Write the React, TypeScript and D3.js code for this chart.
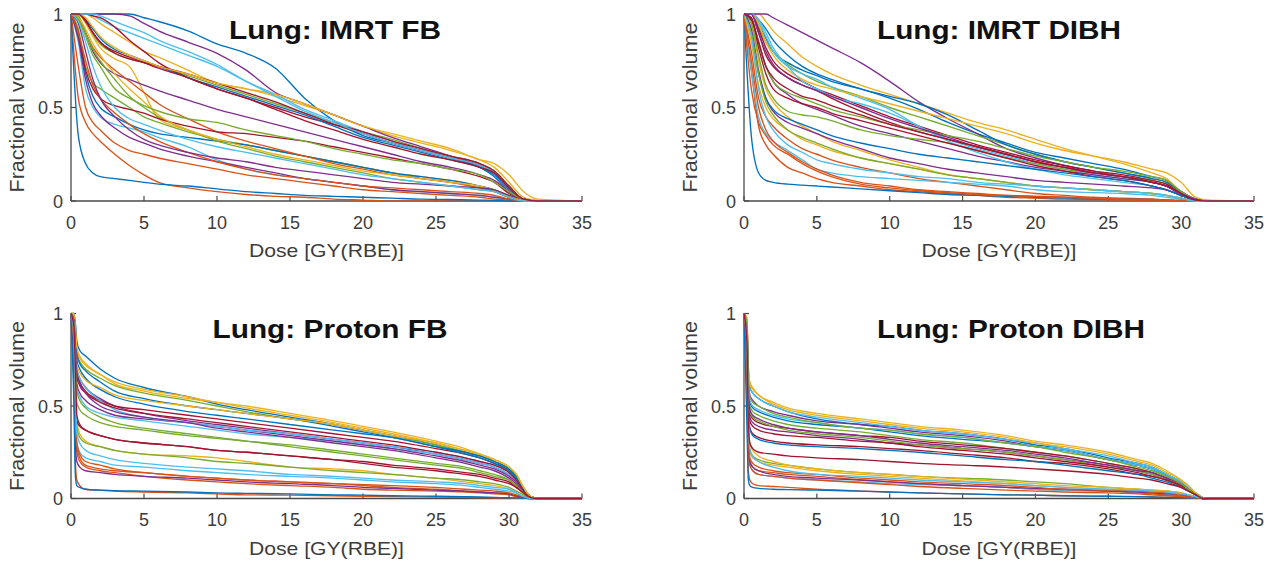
import React from "react";
import * as d3 from "d3";

// MATLAB default colour order (lines cycle through it)
const colorOrder = ["#0072BD", "#D95319", "#EDB120", "#7E2F8E", "#77AC30", "#4DBEEE", "#A2142F"];

const xTicks = [0, 5, 10, 15, 20, 25, 30, 35];
const yTicks = [0, 0.5, 1];
const yTickLabels = ["0", "0.5", "1"];
const titles = ["Lung: IMRT FB", "Lung: IMRT DIBH", "Lung: Proton FB", "Lung: Proton DIBH"];
const xLabel = "Dose [GY(RBE)]";
const yLabel = "Fractional volume";

// dose sample points (Gy(RBE)) at which the curves were read
const imrtDose = [0, 0.5, 1, 1.5, 2, 3, 4, 5, 6, 8, 10, 12, 14, 16, 18, 20, 22, 24, 26, 28, 29, 30, 31, 32, 35];
const protonDose = [0, 0.2, 0.3, 0.4, 0.6, 1, 2, 3, 5, 8, 10, 12, 15, 18, 20, 22, 25, 27, 28, 29, 30, 30.5, 31, 31.5, 32, 35];

// fractional volume per patient, IMRT free breathing
const imrtFB = [
  [1, 1, 1, 1, 1, 1, 1, 0.98, 0.96, 0.91, 0.84, 0.79, 0.71, 0.55, 0.43, 0.35, 0.31, 0.27, 0.23, 0.18, 0.13, 0.05, 0.01, 0, 0],
  [1, 0.72, 0.5, 0.42, 0.38, 0.31, 0.27, 0.25, 0.23, 0.2, 0.17, 0.14, 0.12, 0.1, 0.08, 0.06, 0.05, 0.04, 0.03, 0.02, 0.01, 0.005, 0, 0, 0],
  [1, 1, 1, 0.98, 0.95, 0.9, 0.85, 0.8, 0.77, 0.7, 0.63, 0.6, 0.56, 0.51, 0.46, 0.4, 0.35, 0.31, 0.27, 0.22, 0.18, 0.1, 0.02, 0.005, 0],
  [1, 1, 1, 1, 1, 1, 0.99, 0.95, 0.91, 0.85, 0.79, 0.7, 0.58, 0.52, 0.46, 0.4, 0.34, 0.29, 0.24, 0.19, 0.15, 0.07, 0.01, 0, 0],
  [1, 1, 0.96, 0.89, 0.84, 0.79, 0.76, 0.74, 0.72, 0.67, 0.62, 0.57, 0.52, 0.47, 0.42, 0.37, 0.33, 0.28, 0.24, 0.2, 0.16, 0.08, 0.01, 0, 0],
  [1, 1, 1, 0.99, 0.97, 0.93, 0.9, 0.87, 0.84, 0.78, 0.72, 0.64, 0.57, 0.49, 0.43, 0.37, 0.32, 0.27, 0.23, 0.19, 0.15, 0.07, 0.01, 0, 0],
  [1, 1, 1, 0.99, 0.98, 0.93, 0.86, 0.8, 0.74, 0.66, 0.6, 0.55, 0.5, 0.45, 0.41, 0.37, 0.32, 0.28, 0.24, 0.2, 0.16, 0.08, 0.01, 0, 0],
  [1, 1, 0.97, 0.92, 0.87, 0.81, 0.78, 0.75, 0.72, 0.66, 0.61, 0.56, 0.51, 0.46, 0.4, 0.34, 0.3, 0.26, 0.22, 0.18, 0.14, 0.06, 0.01, 0, 0],
  [1, 0.55, 0.42, 0.36, 0.32, 0.25, 0.19, 0.14, 0.1, 0.07, 0.05, 0.035, 0.025, 0.02, 0.01, 0.005, 0, 0, 0, 0, 0, 0, 0, 0, 0],
  [1, 1, 0.95, 0.88, 0.82, 0.76, 0.72, 0.58, 0.44, 0.38, 0.33, 0.3, 0.27, 0.24, 0.21, 0.18, 0.15, 0.13, 0.11, 0.08, 0.06, 0.03, 0.005, 0, 0],
  [1, 0.98, 0.9, 0.8, 0.74, 0.68, 0.65, 0.62, 0.59, 0.54, 0.49, 0.45, 0.41, 0.37, 0.33, 0.29, 0.25, 0.21, 0.18, 0.14, 0.11, 0.05, 0.01, 0, 0],
  [1, 0.92, 0.72, 0.63, 0.6, 0.55, 0.5, 0.45, 0.42, 0.37, 0.33, 0.3, 0.27, 0.24, 0.21, 0.18, 0.15, 0.12, 0.1, 0.07, 0.05, 0.02, 0, 0, 0],
  [1, 0.85, 0.6, 0.5, 0.45, 0.41, 0.39, 0.37, 0.34, 0.29, 0.22, 0.17, 0.14, 0.12, 0.1, 0.08, 0.06, 0.05, 0.04, 0.03, 0.02, 0.01, 0, 0, 0],
  [1, 1, 0.97, 0.9, 0.85, 0.79, 0.76, 0.74, 0.72, 0.68, 0.63, 0.58, 0.53, 0.47, 0.41, 0.36, 0.31, 0.27, 0.23, 0.19, 0.15, 0.07, 0.01, 0, 0],
  [1, 0.88, 0.68, 0.56, 0.5, 0.45, 0.41, 0.38, 0.36, 0.34, 0.32, 0.3, 0.27, 0.24, 0.21, 0.18, 0.15, 0.13, 0.11, 0.08, 0.06, 0.02, 0, 0, 0],
  [1, 0.97, 0.9, 0.82, 0.77, 0.7, 0.64, 0.58, 0.52, 0.44, 0.37, 0.32, 0.28, 0.24, 0.2, 0.17, 0.14, 0.12, 0.1, 0.07, 0.05, 0.02, 0.005, 0, 0],
  [1, 1, 0.98, 0.93, 0.88, 0.82, 0.78, 0.75, 0.72, 0.68, 0.63, 0.6, 0.57, 0.52, 0.46, 0.4, 0.36, 0.32, 0.28, 0.22, 0.2, 0.14, 0.05, 0.01, 0],
  [1, 0.87, 0.65, 0.52, 0.46, 0.39, 0.34, 0.31, 0.28, 0.24, 0.21, 0.18, 0.15, 0.12, 0.1, 0.08, 0.06, 0.05, 0.04, 0.03, 0.02, 0.01, 0, 0, 0],
  [1, 0.99, 0.9, 0.81, 0.75, 0.65, 0.56, 0.5, 0.45, 0.38, 0.32, 0.28, 0.24, 0.21, 0.18, 0.15, 0.12, 0.1, 0.08, 0.06, 0.05, 0.02, 0, 0, 0],
  [1, 1, 1, 1, 0.99, 0.96, 0.93, 0.9, 0.86, 0.8, 0.73, 0.64, 0.56, 0.48, 0.42, 0.36, 0.31, 0.27, 0.23, 0.19, 0.15, 0.07, 0.01, 0, 0],
  [1, 0.9, 0.7, 0.6, 0.55, 0.51, 0.49, 0.47, 0.44, 0.4, 0.37, 0.36, 0.34, 0.32, 0.29, 0.26, 0.23, 0.2, 0.17, 0.13, 0.1, 0.04, 0.005, 0, 0],
  [1, 0.35, 0.2, 0.15, 0.13, 0.12, 0.11, 0.1, 0.09, 0.08, 0.065, 0.05, 0.04, 0.03, 0.025, 0.02, 0.015, 0.01, 0.008, 0.005, 0.003, 0, 0, 0, 0],
  [1, 0.9, 0.75, 0.62, 0.55, 0.47, 0.41, 0.36, 0.32, 0.26, 0.21, 0.17, 0.14, 0.12, 0.1, 0.08, 0.07, 0.06, 0.05, 0.04, 0.03, 0.01, 0, 0, 0],
  [1, 0.98, 0.92, 0.84, 0.78, 0.68, 0.6, 0.53, 0.46, 0.38, 0.33, 0.29, 0.25, 0.22, 0.19, 0.16, 0.14, 0.12, 0.1, 0.08, 0.06, 0.03, 0.005, 0, 0],
  [1, 0.95, 0.8, 0.65, 0.55, 0.45, 0.38, 0.33, 0.3, 0.26, 0.23, 0.21, 0.18, 0.16, 0.14, 0.12, 0.1, 0.09, 0.08, 0.07, 0.06, 0.03, 0.01, 0, 0],
  [1, 0.97, 0.88, 0.78, 0.72, 0.6, 0.55, 0.51, 0.48, 0.44, 0.42, 0.38, 0.35, 0.32, 0.28, 0.25, 0.22, 0.2, 0.17, 0.14, 0.1, 0.05, 0.01, 0, 0],
  [1, 0.96, 0.85, 0.72, 0.62, 0.5, 0.44, 0.41, 0.38, 0.33, 0.29, 0.26, 0.23, 0.2, 0.17, 0.14, 0.12, 0.1, 0.08, 0.06, 0.05, 0.02, 0, 0, 0],
  [1, 1, 0.96, 0.9, 0.85, 0.8, 0.77, 0.74, 0.71, 0.66, 0.6, 0.55, 0.49, 0.43, 0.38, 0.33, 0.29, 0.25, 0.22, 0.18, 0.15, 0.07, 0.01, 0, 0],
];

// IMRT deep inspiration breath hold
const imrtDIBH = [
  [1, 1, 0.95, 0.87, 0.8, 0.74, 0.7, 0.67, 0.64, 0.6, 0.55, 0.49, 0.42, 0.36, 0.31, 0.26, 0.23, 0.2, 0.17, 0.13, 0.11, 0.05, 0.01, 0, 0],
  [1, 0.7, 0.4, 0.3, 0.25, 0.18, 0.15, 0.12, 0.1, 0.08, 0.06, 0.05, 0.04, 0.03, 0.02, 0.015, 0.01, 0.008, 0.005, 0.003, 0.002, 0, 0, 0, 0],
  [1, 1, 1, 0.96, 0.91, 0.84, 0.77, 0.72, 0.68, 0.62, 0.57, 0.52, 0.47, 0.42, 0.38, 0.33, 0.28, 0.24, 0.2, 0.15, 0.12, 0.05, 0.01, 0, 0],
  [1, 1, 1, 1, 0.98, 0.94, 0.9, 0.86, 0.82, 0.74, 0.64, 0.53, 0.44, 0.36, 0.28, 0.23, 0.19, 0.16, 0.13, 0.1, 0.08, 0.03, 0.005, 0, 0],
  [1, 1, 0.93, 0.85, 0.8, 0.73, 0.68, 0.64, 0.61, 0.56, 0.5, 0.45, 0.4, 0.35, 0.3, 0.25, 0.21, 0.18, 0.15, 0.12, 0.1, 0.05, 0.01, 0, 0],
  [1, 1, 0.96, 0.88, 0.8, 0.72, 0.68, 0.65, 0.61, 0.55, 0.49, 0.4, 0.33, 0.28, 0.24, 0.2, 0.17, 0.14, 0.12, 0.1, 0.08, 0.04, 0.005, 0, 0],
  [1, 1, 0.9, 0.78, 0.72, 0.66, 0.62, 0.59, 0.55, 0.48, 0.42, 0.37, 0.33, 0.29, 0.25, 0.21, 0.18, 0.15, 0.13, 0.1, 0.08, 0.04, 0.005, 0, 0],
  [1, 1, 0.97, 0.92, 0.86, 0.78, 0.72, 0.68, 0.65, 0.6, 0.56, 0.52, 0.46, 0.38, 0.3, 0.25, 0.21, 0.18, 0.15, 0.12, 0.1, 0.05, 0.01, 0, 0],
  [1, 0.8, 0.55, 0.45, 0.4, 0.33, 0.28, 0.25, 0.22, 0.18, 0.15, 0.12, 0.1, 0.08, 0.06, 0.04, 0.03, 0.02, 0.015, 0.01, 0.005, 0, 0, 0, 0],
  [1, 0.95, 0.75, 0.6, 0.53, 0.45, 0.4, 0.36, 0.32, 0.27, 0.22, 0.18, 0.14, 0.12, 0.1, 0.08, 0.07, 0.06, 0.05, 0.04, 0.03, 0.01, 0, 0, 0],
  [1, 0.98, 0.85, 0.72, 0.64, 0.57, 0.52, 0.49, 0.46, 0.4, 0.36, 0.32, 0.28, 0.24, 0.21, 0.18, 0.16, 0.14, 0.12, 0.1, 0.08, 0.04, 0.005, 0, 0],
  [1, 0.95, 0.78, 0.62, 0.55, 0.48, 0.46, 0.45, 0.43, 0.38, 0.35, 0.33, 0.31, 0.27, 0.23, 0.2, 0.17, 0.15, 0.13, 0.11, 0.09, 0.04, 0.01, 0, 0],
  [1, 0.7, 0.45, 0.36, 0.32, 0.27, 0.22, 0.17, 0.15, 0.13, 0.12, 0.11, 0.1, 0.09, 0.08, 0.06, 0.05, 0.045, 0.04, 0.03, 0.02, 0.01, 0, 0, 0],
  [1, 1, 0.92, 0.82, 0.75, 0.68, 0.64, 0.6, 0.57, 0.51, 0.45, 0.4, 0.35, 0.3, 0.26, 0.22, 0.19, 0.16, 0.14, 0.11, 0.09, 0.04, 0.01, 0, 0],
  [1, 0.35, 0.15, 0.11, 0.1, 0.09, 0.085, 0.08, 0.075, 0.065, 0.055, 0.045, 0.035, 0.03, 0.025, 0.02, 0.015, 0.012, 0.01, 0.008, 0.006, 0.003, 0, 0, 0],
  [1, 0.75, 0.5, 0.38, 0.32, 0.26, 0.21, 0.17, 0.14, 0.1, 0.08, 0.06, 0.05, 0.04, 0.03, 0.025, 0.02, 0.015, 0.01, 0.008, 0.005, 0, 0, 0, 0],
  [1, 1, 0.95, 0.85, 0.78, 0.7, 0.65, 0.62, 0.6, 0.56, 0.52, 0.48, 0.44, 0.4, 0.36, 0.31, 0.27, 0.24, 0.21, 0.17, 0.15, 0.1, 0.02, 0.005, 0],
  [1, 0.92, 0.7, 0.55, 0.48, 0.42, 0.39, 0.36, 0.33, 0.28, 0.23, 0.2, 0.17, 0.15, 0.13, 0.11, 0.1, 0.09, 0.08, 0.07, 0.06, 0.03, 0.005, 0, 0],
  [1, 0.97, 0.85, 0.72, 0.64, 0.58, 0.55, 0.52, 0.49, 0.45, 0.41, 0.38, 0.35, 0.32, 0.28, 0.24, 0.21, 0.18, 0.16, 0.13, 0.11, 0.05, 0.01, 0, 0],
  [1, 1, 0.97, 0.9, 0.82, 0.72, 0.64, 0.6, 0.56, 0.52, 0.47, 0.4, 0.32, 0.26, 0.21, 0.17, 0.14, 0.12, 0.1, 0.08, 0.06, 0.03, 0.005, 0, 0],
  [1, 0.98, 0.82, 0.68, 0.6, 0.55, 0.52, 0.5, 0.47, 0.43, 0.39, 0.35, 0.31, 0.27, 0.23, 0.19, 0.16, 0.13, 0.11, 0.08, 0.06, 0.03, 0.005, 0, 0],
  [1, 0.9, 0.68, 0.55, 0.49, 0.44, 0.41, 0.38, 0.35, 0.31, 0.28, 0.25, 0.23, 0.21, 0.19, 0.17, 0.15, 0.13, 0.11, 0.08, 0.06, 0.03, 0.005, 0, 0],
  [1, 0.6, 0.42, 0.35, 0.3, 0.25, 0.2, 0.16, 0.13, 0.09, 0.07, 0.055, 0.045, 0.035, 0.03, 0.025, 0.02, 0.015, 0.01, 0.008, 0.005, 0, 0, 0, 0],
  [1, 0.85, 0.62, 0.5, 0.44, 0.38, 0.33, 0.3, 0.27, 0.23, 0.2, 0.17, 0.14, 0.12, 0.1, 0.08, 0.07, 0.06, 0.05, 0.04, 0.03, 0.015, 0, 0, 0],
  [1, 1, 0.9, 0.8, 0.73, 0.66, 0.62, 0.59, 0.56, 0.5, 0.44, 0.39, 0.34, 0.29, 0.25, 0.21, 0.18, 0.15, 0.13, 0.1, 0.08, 0.04, 0.01, 0, 0],
  [1, 0.9, 0.68, 0.53, 0.46, 0.38, 0.34, 0.31, 0.28, 0.23, 0.2, 0.17, 0.14, 0.12, 0.1, 0.08, 0.07, 0.06, 0.05, 0.04, 0.03, 0.015, 0, 0, 0],
  [1, 0.88, 0.6, 0.45, 0.38, 0.3, 0.26, 0.22, 0.2, 0.17, 0.15, 0.13, 0.12, 0.1, 0.09, 0.08, 0.07, 0.06, 0.05, 0.04, 0.03, 0.015, 0, 0, 0],
  [1, 0.97, 0.85, 0.72, 0.66, 0.6, 0.56, 0.54, 0.51, 0.46, 0.41, 0.37, 0.33, 0.29, 0.25, 0.21, 0.18, 0.15, 0.13, 0.1, 0.08, 0.04, 0.005, 0, 0],
];

// Proton free breathing
const protonFB = [
  [1, 1, 0.95, 0.85, 0.8, 0.77, 0.7, 0.65, 0.6, 0.55, 0.51, 0.48, 0.44, 0.4, 0.37, 0.34, 0.29, 0.25, 0.23, 0.2, 0.16, 0.12, 0.05, 0.01, 0, 0],
  [1, 0.6, 0.2, 0.1, 0.07, 0.05, 0.045, 0.04, 0.035, 0.03, 0.025, 0.02, 0.018, 0.015, 0.012, 0.01, 0.008, 0.006, 0.005, 0.004, 0.003, 0.002, 0.001, 0, 0, 0],
  [1, 1, 0.9, 0.8, 0.76, 0.72, 0.67, 0.62, 0.58, 0.54, 0.52, 0.49, 0.45, 0.41, 0.38, 0.35, 0.3, 0.26, 0.24, 0.21, 0.17, 0.13, 0.06, 0.01, 0, 0],
  [1, 0.95, 0.8, 0.7, 0.65, 0.6, 0.54, 0.5, 0.46, 0.42, 0.4, 0.38, 0.35, 0.32, 0.3, 0.28, 0.24, 0.21, 0.19, 0.17, 0.13, 0.1, 0.04, 0.01, 0, 0],
  [1, 0.98, 0.85, 0.78, 0.74, 0.7, 0.65, 0.61, 0.57, 0.53, 0.5, 0.47, 0.43, 0.4, 0.37, 0.34, 0.29, 0.25, 0.23, 0.2, 0.16, 0.12, 0.05, 0.01, 0, 0],
  [1, 0.95, 0.75, 0.6, 0.55, 0.5, 0.46, 0.44, 0.42, 0.39, 0.37, 0.35, 0.33, 0.31, 0.29, 0.27, 0.24, 0.21, 0.19, 0.17, 0.13, 0.1, 0.04, 0.005, 0, 0],
  [1, 0.97, 0.8, 0.68, 0.63, 0.58, 0.53, 0.5, 0.48, 0.45, 0.43, 0.41, 0.38, 0.35, 0.33, 0.31, 0.27, 0.24, 0.22, 0.19, 0.15, 0.11, 0.05, 0.01, 0, 0],
  [1, 0.98, 0.88, 0.78, 0.73, 0.69, 0.63, 0.58, 0.54, 0.5, 0.48, 0.46, 0.43, 0.39, 0.36, 0.33, 0.28, 0.24, 0.22, 0.19, 0.15, 0.11, 0.05, 0.01, 0, 0],
  [1, 0.8, 0.45, 0.28, 0.22, 0.18, 0.16, 0.15, 0.14, 0.12, 0.11, 0.1, 0.09, 0.08, 0.07, 0.06, 0.05, 0.04, 0.035, 0.03, 0.025, 0.015, 0.005, 0, 0, 0],
  [1, 0.9, 0.6, 0.42, 0.35, 0.31, 0.28, 0.26, 0.24, 0.23, 0.22, 0.2, 0.17, 0.16, 0.15, 0.13, 0.11, 0.09, 0.08, 0.07, 0.05, 0.03, 0.01, 0, 0, 0],
  [1, 0.95, 0.75, 0.62, 0.57, 0.53, 0.48, 0.45, 0.43, 0.41, 0.39, 0.37, 0.34, 0.31, 0.29, 0.27, 0.23, 0.2, 0.18, 0.16, 0.12, 0.09, 0.04, 0.005, 0, 0],
  [1, 0.9, 0.65, 0.52, 0.48, 0.45, 0.41, 0.39, 0.37, 0.34, 0.325, 0.31, 0.28, 0.25, 0.23, 0.21, 0.18, 0.16, 0.14, 0.12, 0.1, 0.07, 0.03, 0.005, 0, 0],
  [1, 0.96, 0.8, 0.7, 0.65, 0.6, 0.53, 0.48, 0.44, 0.41, 0.39, 0.37, 0.35, 0.32, 0.3, 0.28, 0.25, 0.22, 0.2, 0.18, 0.14, 0.1, 0.04, 0.01, 0, 0],
  [1, 0.9, 0.55, 0.42, 0.39, 0.37, 0.34, 0.32, 0.3, 0.28, 0.26, 0.25, 0.23, 0.21, 0.19, 0.17, 0.15, 0.13, 0.12, 0.1, 0.08, 0.06, 0.03, 0.005, 0, 0],
  [1, 0.97, 0.85, 0.75, 0.7, 0.65, 0.59, 0.55, 0.51, 0.47, 0.45, 0.43, 0.4, 0.37, 0.35, 0.33, 0.28, 0.25, 0.23, 0.2, 0.16, 0.12, 0.05, 0.01, 0, 0],
  [1, 0.8, 0.4, 0.25, 0.2, 0.17, 0.15, 0.14, 0.12, 0.1, 0.09, 0.08, 0.07, 0.06, 0.05, 0.045, 0.04, 0.035, 0.03, 0.025, 0.02, 0.01, 0.005, 0, 0, 0],
  [1, 0.99, 0.92, 0.82, 0.77, 0.73, 0.67, 0.63, 0.59, 0.55, 0.52, 0.5, 0.46, 0.42, 0.39, 0.36, 0.31, 0.27, 0.24, 0.21, 0.17, 0.13, 0.06, 0.01, 0, 0],
  [1, 0.7, 0.3, 0.2, 0.17, 0.15, 0.14, 0.13, 0.12, 0.11, 0.1, 0.09, 0.08, 0.07, 0.06, 0.055, 0.045, 0.04, 0.035, 0.03, 0.025, 0.015, 0.005, 0, 0, 0],
  [1, 0.85, 0.55, 0.38, 0.33, 0.3, 0.28, 0.26, 0.24, 0.22, 0.2, 0.19, 0.17, 0.15, 0.14, 0.13, 0.11, 0.1, 0.09, 0.08, 0.06, 0.04, 0.02, 0, 0, 0],
  [1, 0.85, 0.45, 0.3, 0.25, 0.22, 0.2, 0.18, 0.17, 0.15, 0.14, 0.13, 0.12, 0.11, 0.1, 0.09, 0.08, 0.07, 0.06, 0.05, 0.04, 0.03, 0.01, 0, 0, 0],
  [1, 0.95, 0.8, 0.66, 0.61, 0.57, 0.52, 0.49, 0.46, 0.43, 0.41, 0.39, 0.36, 0.33, 0.31, 0.29, 0.25, 0.22, 0.2, 0.18, 0.14, 0.1, 0.04, 0.005, 0, 0],
  [1, 0.5, 0.12, 0.07, 0.06, 0.05, 0.045, 0.042, 0.04, 0.035, 0.03, 0.028, 0.025, 0.02, 0.018, 0.015, 0.012, 0.01, 0.008, 0.006, 0.004, 0.003, 0.002, 0, 0, 0],
  [1, 0.85, 0.55, 0.3, 0.24, 0.2, 0.18, 0.16, 0.14, 0.12, 0.11, 0.1, 0.09, 0.08, 0.075, 0.07, 0.06, 0.05, 0.045, 0.04, 0.03, 0.02, 0.01, 0.005, 0.002, 0],
  [1, 0.95, 0.8, 0.72, 0.68, 0.64, 0.6, 0.56, 0.53, 0.5, 0.48, 0.46, 0.43, 0.4, 0.37, 0.34, 0.3, 0.26, 0.24, 0.21, 0.17, 0.13, 0.06, 0.01, 0, 0],
  [1, 0.97, 0.82, 0.68, 0.62, 0.57, 0.5, 0.47, 0.44, 0.41, 0.38, 0.36, 0.33, 0.3, 0.28, 0.26, 0.22, 0.19, 0.17, 0.15, 0.11, 0.08, 0.03, 0.005, 0, 0],
  [1, 0.95, 0.72, 0.58, 0.53, 0.49, 0.44, 0.41, 0.38, 0.35, 0.33, 0.31, 0.29, 0.26, 0.24, 0.22, 0.19, 0.17, 0.15, 0.13, 0.1, 0.07, 0.03, 0.005, 0, 0],
  [1, 0.9, 0.6, 0.35, 0.3, 0.26, 0.23, 0.21, 0.19, 0.17, 0.16, 0.15, 0.13, 0.12, 0.11, 0.1, 0.09, 0.08, 0.07, 0.06, 0.05, 0.03, 0.01, 0, 0, 0],
  [1, 0.93, 0.7, 0.45, 0.4, 0.37, 0.34, 0.32, 0.3, 0.28, 0.26, 0.25, 0.23, 0.21, 0.2, 0.18, 0.16, 0.14, 0.13, 0.11, 0.09, 0.06, 0.03, 0.005, 0, 0],
];

// Proton deep inspiration breath hold
const protonDIBH = [
  [1, 0.95, 0.7, 0.6, 0.57, 0.54, 0.5, 0.47, 0.43, 0.4, 0.39, 0.37, 0.35, 0.32, 0.29, 0.27, 0.22, 0.19, 0.17, 0.13, 0.09, 0.06, 0.03, 0.005, 0, 0],
  [1, 0.6, 0.15, 0.1, 0.08, 0.07, 0.065, 0.06, 0.05, 0.04, 0.035, 0.03, 0.025, 0.02, 0.018, 0.015, 0.012, 0.01, 0.008, 0.006, 0.004, 0.003, 0.002, 0.001, 0.001, 0],
  [1, 0.98, 0.72, 0.63, 0.6, 0.56, 0.52, 0.49, 0.46, 0.43, 0.41, 0.39, 0.37, 0.34, 0.31, 0.29, 0.25, 0.21, 0.19, 0.15, 0.1, 0.07, 0.03, 0.005, 0, 0],
  [1, 0.95, 0.65, 0.56, 0.53, 0.5, 0.47, 0.45, 0.42, 0.4, 0.38, 0.36, 0.34, 0.31, 0.28, 0.26, 0.21, 0.18, 0.16, 0.12, 0.08, 0.05, 0.02, 0.005, 0, 0],
  [1, 0.93, 0.6, 0.5, 0.47, 0.45, 0.42, 0.4, 0.38, 0.36, 0.34, 0.32, 0.3, 0.27, 0.25, 0.23, 0.19, 0.16, 0.14, 0.11, 0.08, 0.05, 0.02, 0, 0, 0],
  [1, 0.96, 0.68, 0.6, 0.57, 0.54, 0.5, 0.47, 0.44, 0.41, 0.39, 0.37, 0.35, 0.32, 0.3, 0.27, 0.23, 0.19, 0.17, 0.13, 0.09, 0.06, 0.03, 0.005, 0, 0],
  [1, 0.92, 0.55, 0.46, 0.43, 0.41, 0.39, 0.38, 0.36, 0.34, 0.33, 0.31, 0.29, 0.27, 0.25, 0.23, 0.19, 0.16, 0.14, 0.11, 0.08, 0.05, 0.02, 0, 0, 0],
  [1, 0.93, 0.62, 0.52, 0.49, 0.47, 0.44, 0.42, 0.4, 0.38, 0.36, 0.34, 0.32, 0.3, 0.28, 0.26, 0.21, 0.18, 0.16, 0.12, 0.08, 0.05, 0.02, 0, 0, 0],
  [1, 0.7, 0.3, 0.2, 0.17, 0.15, 0.14, 0.13, 0.12, 0.1, 0.09, 0.08, 0.07, 0.06, 0.05, 0.045, 0.04, 0.03, 0.025, 0.02, 0.015, 0.01, 0.005, 0.002, 0.001, 0],
  [1, 0.8, 0.35, 0.25, 0.22, 0.2, 0.18, 0.17, 0.15, 0.13, 0.12, 0.11, 0.095, 0.08, 0.07, 0.06, 0.05, 0.04, 0.035, 0.03, 0.02, 0.015, 0.008, 0.003, 0, 0],
  [1, 0.9, 0.55, 0.44, 0.41, 0.39, 0.37, 0.36, 0.34, 0.32, 0.3, 0.29, 0.27, 0.25, 0.23, 0.21, 0.18, 0.15, 0.13, 0.1, 0.07, 0.05, 0.02, 0, 0, 0],
  [1, 0.8, 0.35, 0.26, 0.23, 0.21, 0.19, 0.18, 0.16, 0.14, 0.13, 0.12, 0.11, 0.1, 0.09, 0.08, 0.06, 0.05, 0.045, 0.04, 0.03, 0.02, 0.01, 0.003, 0, 0],
  [1, 0.7, 0.25, 0.18, 0.15, 0.13, 0.12, 0.11, 0.1, 0.09, 0.08, 0.075, 0.07, 0.06, 0.05, 0.045, 0.04, 0.035, 0.03, 0.025, 0.02, 0.015, 0.008, 0.003, 0, 0],
  [1, 0.88, 0.5, 0.38, 0.35, 0.33, 0.31, 0.3, 0.29, 0.28, 0.27, 0.26, 0.24, 0.22, 0.2, 0.19, 0.16, 0.13, 0.12, 0.1, 0.07, 0.05, 0.02, 0, 0, 0],
  [1, 0.4, 0.1, 0.07, 0.06, 0.055, 0.05, 0.048, 0.045, 0.04, 0.035, 0.03, 0.025, 0.02, 0.018, 0.015, 0.012, 0.01, 0.008, 0.006, 0.005, 0.004, 0.003, 0.002, 0.001, 0],
  [1, 0.75, 0.28, 0.18, 0.15, 0.13, 0.12, 0.11, 0.1, 0.085, 0.075, 0.065, 0.055, 0.045, 0.04, 0.035, 0.03, 0.025, 0.02, 0.015, 0.01, 0.008, 0.005, 0.003, 0.002, 0],
  [1, 0.97, 0.7, 0.62, 0.59, 0.56, 0.51, 0.48, 0.45, 0.42, 0.4, 0.38, 0.36, 0.33, 0.3, 0.28, 0.24, 0.2, 0.18, 0.14, 0.1, 0.06, 0.03, 0.005, 0, 0],
  [1, 0.75, 0.3, 0.2, 0.17, 0.15, 0.13, 0.12, 0.11, 0.1, 0.09, 0.08, 0.07, 0.06, 0.055, 0.05, 0.04, 0.035, 0.03, 0.025, 0.02, 0.015, 0.008, 0.003, 0, 0],
  [1, 0.9, 0.58, 0.47, 0.44, 0.42, 0.39, 0.37, 0.35, 0.33, 0.31, 0.29, 0.27, 0.25, 0.23, 0.21, 0.17, 0.15, 0.13, 0.1, 0.07, 0.05, 0.02, 0, 0, 0],
  [1, 0.94, 0.62, 0.53, 0.5, 0.48, 0.45, 0.43, 0.41, 0.38, 0.37, 0.35, 0.33, 0.3, 0.28, 0.26, 0.21, 0.18, 0.16, 0.12, 0.08, 0.05, 0.02, 0, 0, 0],
  [1, 0.9, 0.52, 0.42, 0.39, 0.37, 0.35, 0.34, 0.33, 0.31, 0.3, 0.28, 0.26, 0.24, 0.22, 0.2, 0.17, 0.14, 0.12, 0.1, 0.07, 0.05, 0.02, 0, 0, 0],
  [1, 0.9, 0.5, 0.38, 0.34, 0.32, 0.3, 0.29, 0.28, 0.27, 0.26, 0.25, 0.23, 0.21, 0.2, 0.18, 0.15, 0.13, 0.11, 0.09, 0.06, 0.04, 0.02, 0, 0, 0],
  [1, 0.8, 0.35, 0.22, 0.19, 0.17, 0.15, 0.14, 0.13, 0.11, 0.1, 0.09, 0.08, 0.07, 0.06, 0.05, 0.045, 0.04, 0.035, 0.03, 0.02, 0.015, 0.008, 0.003, 0.002, 0],
  [1, 0.85, 0.45, 0.3, 0.26, 0.23, 0.2, 0.18, 0.16, 0.14, 0.13, 0.12, 0.105, 0.09, 0.08, 0.07, 0.06, 0.05, 0.045, 0.04, 0.03, 0.02, 0.01, 0.003, 0, 0],
  [1, 0.92, 0.58, 0.48, 0.45, 0.43, 0.4, 0.38, 0.36, 0.34, 0.32, 0.3, 0.28, 0.26, 0.24, 0.22, 0.18, 0.15, 0.14, 0.11, 0.08, 0.05, 0.02, 0, 0, 0],
  [1, 0.95, 0.64, 0.55, 0.52, 0.5, 0.46, 0.44, 0.41, 0.38, 0.37, 0.35, 0.33, 0.3, 0.28, 0.25, 0.21, 0.17, 0.15, 0.12, 0.08, 0.05, 0.02, 0, 0, 0],
  [1, 0.85, 0.4, 0.27, 0.23, 0.2, 0.17, 0.15, 0.13, 0.12, 0.11, 0.1, 0.09, 0.08, 0.07, 0.06, 0.05, 0.045, 0.04, 0.035, 0.025, 0.02, 0.01, 0.003, 0, 0],
  [1, 0.85, 0.4, 0.3, 0.27, 0.25, 0.24, 0.23, 0.22, 0.21, 0.2, 0.19, 0.18, 0.17, 0.16, 0.15, 0.13, 0.11, 0.1, 0.08, 0.06, 0.04, 0.02, 0, 0, 0],
];

const panelData = [
  { dose: imrtDose, curves: imrtFB },
  { dose: imrtDose, curves: imrtDIBH },
  { dose: protonDose, curves: protonFB },
  { dose: protonDose, curves: protonDIBH },
];

// layout (pixels)
const boxes = [
  { left: 71, right: 582, top: 14, bottom: 201, titleX: 335, titleW: 212 },
  { left: 744, right: 1254, top: 14, bottom: 201, titleX: 999, titleW: 244 },
  { left: 71, right: 582, top: 313.5, bottom: 498.5, titleX: 330, titleW: 235 },
  { left: 744, right: 1254, top: 313.5, bottom: 498.5, titleX: 1011, titleW: 268 },
];

const FONT = "'Liberation Sans', Arial, Helvetica, sans-serif";
const AXIS = "#4a4a4a";
const TEXT = "#3c3c3c";

function Panel({ idx }: { idx: number }) {
  const box = boxes[idx];
  const { dose, curves } = panelData[idx];
  const x = d3.scaleLinear().domain([0, 35]).range([box.left, box.right]);
  const y = d3.scaleLinear().domain([0, 1]).range([box.bottom, box.top]);
  const line = d3
    .line<number>()
    .x((_, i) => x(dose[i]))
    .y((v) => y(v))
    .curve(d3.curveMonotoneX);
  const midY = (box.top + box.bottom) / 2;
  const midX = (box.left + box.right) / 2;
  return (
    <g>
      {/* axes */}
      <line x1={box.left} x2={box.right} y1={box.bottom} y2={box.bottom} stroke={AXIS} strokeWidth={1.3} />
      <line x1={box.left} x2={box.left} y1={box.top} y2={box.bottom} stroke={AXIS} strokeWidth={1.3} />
      {xTicks.map((t) => (
        <g key={"x" + t}>
          <line x1={x(t)} x2={x(t)} y1={box.bottom} y2={box.bottom - 5} stroke={AXIS} strokeWidth={1.2} />
          <text x={x(t)} y={box.bottom + 27.5} textAnchor="middle" fontSize={18} fill={TEXT} fontFamily={FONT}>
            {t}
          </text>
        </g>
      ))}
      {yTicks.map((t, i) => (
        <g key={"y" + t}>
          <line x1={box.left} x2={box.left + 5} y1={y(t)} y2={y(t)} stroke={AXIS} strokeWidth={1.2} />
          <text x={box.left - 8} y={y(t) + 6.5} textAnchor="end" fontSize={18} fill={TEXT} fontFamily={FONT}>
            {yTickLabels[i]}
          </text>
        </g>
      ))}
      {/* curves */}
      {curves.map((c, i) => (
        <path key={i} d={line(c) || ""} fill="none" stroke={colorOrder[i % colorOrder.length]} strokeWidth={1.35} strokeLinejoin="round" />
      ))}
      {/* labels */}
      <text x={midX} y={box.bottom + 56} textAnchor="middle" fontSize={19} fill={TEXT} fontFamily={FONT} textLength={155} lengthAdjust="spacingAndGlyphs">
        {xLabel}
      </text>
      <text
        transform={`translate(${box.left - 47},${midY}) rotate(-90)`}
        textAnchor="middle"
        fontSize={20}
        fill={TEXT}
        fontFamily={FONT}
        textLength={170}
        lengthAdjust="spacingAndGlyphs"
      >
        {yLabel}
      </text>
      <text
        x={box.titleX}
        y={box.top + 24.5}
        textAnchor="middle"
        fontSize={25}
        fontWeight="bold"
        fill="#111"
        fontFamily={FONT}
        textLength={box.titleW}
        lengthAdjust="spacingAndGlyphs"
      >
        {titles[idx]}
      </text>
    </g>
  );
}

export default function App() {
  return (
    <svg
      width={1281}
      height={561}
      viewBox="0 0 1281 561"
      style={{ position: "absolute", left: 0, top: 0, background: "#fff" }}
    >
      <rect x={0} y={0} width={1281} height={561} fill="#fff" />
      {[0, 1, 2, 3].map((i) => (
        <Panel key={i} idx={i} />
      ))}
    </svg>
  );
}
